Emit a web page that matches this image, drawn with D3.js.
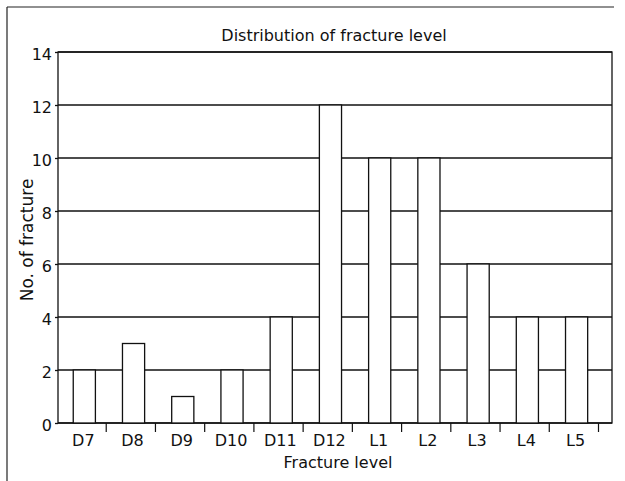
<!DOCTYPE html>
<html>
<head>
<meta charset="utf-8">
<script src="https://cdn.jsdelivr.net/npm/d3@7"></script>
<style>
    body { margin: 0; background: #fff; }
    text { font-family: "DejaVu Sans", sans-serif; fill: #111; }
</style>
</head>
<body>
<div id="main"></div>
<script>
const levels = ["D7", "D8", "D9", "D10", "D11", "D12", "L1", "L2", "L3", "L4", "L5"];
const fractures = [2, 3, 1, 2, 4, 12, 10, 10, 6, 4, 4];
const yTicks = [0, 2, 4, 6, 8, 10, 12, 14];

onload = () => {
    let svg = d3.select("#main").append("svg");
    svg.attr("width", 625).attr("height", 481);

    let left = 58, right = 612, top = 52, bottom = 423;

    let xScale = d3.scaleBand()
        .domain(levels)
        .range([57, 598.5]);
    let bw = xScale.bandwidth();

    let yScale = d3.scaleLinear()
        .domain([0, 14])
        .range([bottom, top]);

    // outer box (top and left edges only visible)
    svg.append("line").attr("x1", 7).attr("x2", 614).attr("y1", 7).attr("y2", 7)
        .attr("stroke", "#222").attr("stroke-width", 1.2);
    svg.append("line").attr("x1", 7).attr("x2", 7).attr("y1", 7).attr("y2", 481)
        .attr("stroke", "#222").attr("stroke-width", 1.2);

    // grid lines
    svg.append("g").selectAll("line").data(yTicks).enter().append("line")
        .attr("x1", left).attr("x2", right)
        .attr("y1", (d) => yScale(d)).attr("y2", (d) => yScale(d))
        .attr("stroke", "#111").attr("stroke-width", 1.3);

    // plot frame
    svg.append("rect")
        .attr("x", left).attr("y", top)
        .attr("width", right - left).attr("height", bottom - top)
        .attr("fill", "none").attr("stroke", "#111").attr("stroke-width", 1.3);

    // bars
    svg.append("g").selectAll("rect").data(levels).enter().append("rect")
        .attr("x", (d) => xScale(d) + bw * 0.33)
        .attr("width", bw * 0.45)
        .attr("y", (d, i) => yScale(fractures[i]))
        .attr("height", (d, i) => yScale(0) - yScale(fractures[i]))
        .attr("fill", "#fff").attr("stroke", "#111").attr("stroke-width", 1.3);

    // y axis
    let axisLeft = d3.axisLeft(yScale).tickValues(yTicks).tickSize(3).tickPadding(3);
    let yAxis = svg.append("g")
        .attr("transform", `translate(${left}, 0)`)
        .call(axisLeft);
    yAxis.select(".domain").remove();
    yAxis.selectAll("line").attr("stroke", "#111").attr("stroke-width", 1.3);
    yAxis.selectAll("text").style("font-size", "16px").style("font-family", "DejaVu Sans").attr("fill", "#111")
        .attr("dy", "0.45em");

    // x ticks at band boundaries
    svg.append("g").selectAll("line").data(levels).enter().append("line")
        .attr("x1", (d) => xScale(d) + bw).attr("x2", (d) => xScale(d) + bw)
        .attr("y1", bottom).attr("y2", bottom + 9)
        .attr("stroke", "#111").attr("stroke-width", 1.2);

    svg.append("g").selectAll("text").data(levels).enter().append("text")
        .attr("x", (d) => xScale(d) + bw * 0.555 - 1)
        .attr("y", 446)
        .attr("text-anchor", "middle")
        .style("font-size", "16px")
        .text((d) => d);

    // titles
    svg.append("text")
        .attr("x", 334).attr("y", 41)
        .attr("text-anchor", "middle")
        .style("font-size", "16px")
        .text("Distribution of fracture level");

    svg.append("text")
        .attr("x", 338).attr("y", 468)
        .attr("text-anchor", "middle")
        .style("font-size", "16px")
        .text("Fracture level");

    svg.append("text")
        .attr("transform", "translate(33, 240) rotate(-90)")
        .attr("text-anchor", "middle")
        .style("font-size", "17px")
        .text("No. of fracture");
};
</script>
</body>
</html>
